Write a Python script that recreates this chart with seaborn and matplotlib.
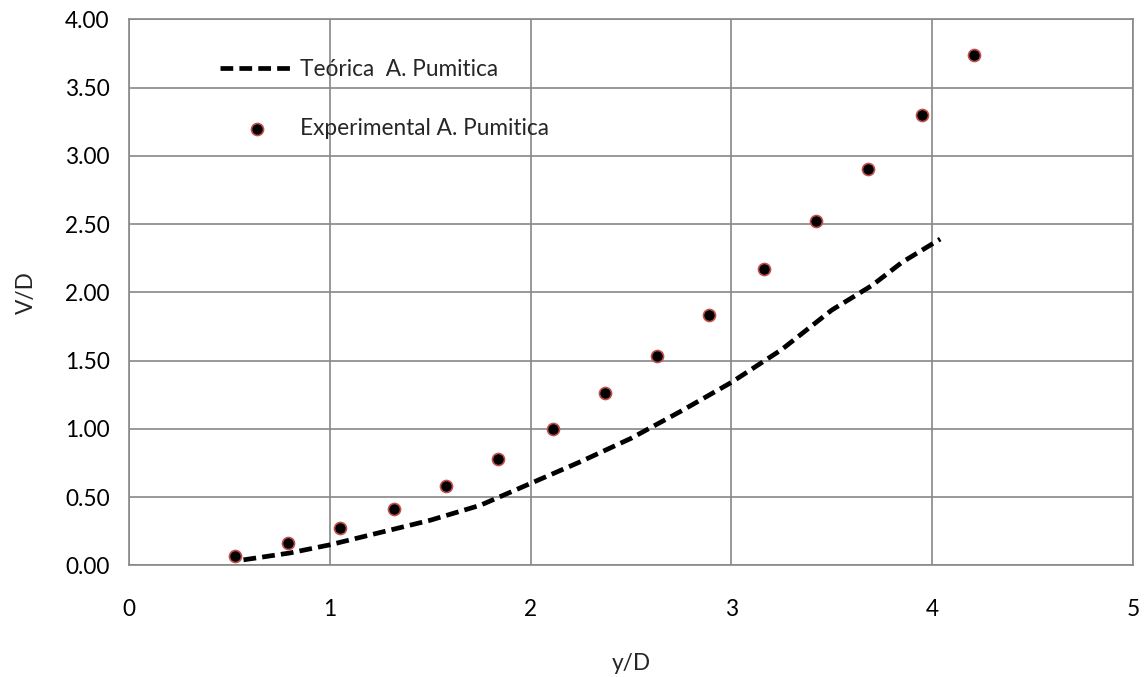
import matplotlib
matplotlib.use("Agg")
import matplotlib.pyplot as plt
import seaborn as sns
import pandas as pd
from matplotlib.ticker import FormatStrFormatter

# Experimental series
exp_x = [0.53, 0.79, 1.05, 1.32, 1.58, 1.84, 2.11, 2.37, 2.63, 2.89, 3.16, 3.42, 3.68, 3.95, 4.21]
exp_y = [0.07, 0.16, 0.27, 0.41, 0.58, 0.78, 1.00, 1.26, 1.53, 1.83, 2.17, 2.52, 2.90, 3.30, 3.74]

# Theoretical curve
teo_x = [0.57, 0.80, 1.00, 1.25, 1.50, 1.75, 2.00, 2.25, 2.50, 2.75, 3.00, 3.25, 3.50, 3.70, 3.85, 4.04]
teo_y = [0.04, 0.09, 0.15, 0.24, 0.33, 0.44, 0.60, 0.76, 0.93, 1.13, 1.34, 1.58, 1.87, 2.05, 2.22, 2.39]

x_ticks = [0, 1, 2, 3, 4, 5]
y_ticks = [0.0, 0.5, 1.0, 1.5, 2.0, 2.5, 3.0, 3.5, 4.0]

sns.set_style("white")
plt.rcParams["font.family"] = ["Lato", "DejaVu Sans"]

grid_col = "#888888"
fs = 16.3

fig = plt.figure(figsize=(11.45, 6.77), dpi=100)
ax = fig.add_axes([0.1127, 0.165, 0.8768, 0.8065])

teo = pd.DataFrame({"x": teo_x, "y": teo_y})
exp = pd.DataFrame({"x": exp_x, "y": exp_y})

sns.lineplot(data=teo, x="x", y="y", ax=ax, color="black", linewidth=3.4,
             linestyle=(0, (2.7, 1.3)), label="Teórica  A. Pumitica", zorder=3,
             sort=False)
sns.scatterplot(data=exp, x="x", y="y", ax=ax, color="black", edgecolor="#c0504d",
                linewidth=1.2, s=75, label="Experimental A. Pumitica", zorder=4)

ax.set_xlim(0, 5)
ax.set_ylim(0, 4)
ax.set_xticks(x_ticks)
ax.set_yticks(y_ticks)
ax.yaxis.set_major_formatter(FormatStrFormatter("%.2f"))
ax.grid(True, color=grid_col, linewidth=1.2)
ax.set_axisbelow(True)
for sp in ax.spines.values():
    sp.set_color(grid_col)
    sp.set_linewidth(1.2)
    sp.set_visible(True)

ax.tick_params(axis="both", which="major", labelsize=fs, colors="black",
               length=6, width=1.2, color=grid_col, direction="out")
ax.tick_params(axis="x", pad=18)
ax.tick_params(axis="y", pad=8)

ax.set_xlabel("y/D", fontsize=fs, labelpad=24)
ax.set_ylabel("V/D", fontsize=fs, labelpad=20)

leg = ax.legend(loc="upper left", bbox_to_anchor=(0.07, 0.965), frameon=False,
                fontsize=fs, labelspacing=1.7, handlelength=3.3, handletextpad=0.25)

fig.savefig("out.png", dpi=100)
